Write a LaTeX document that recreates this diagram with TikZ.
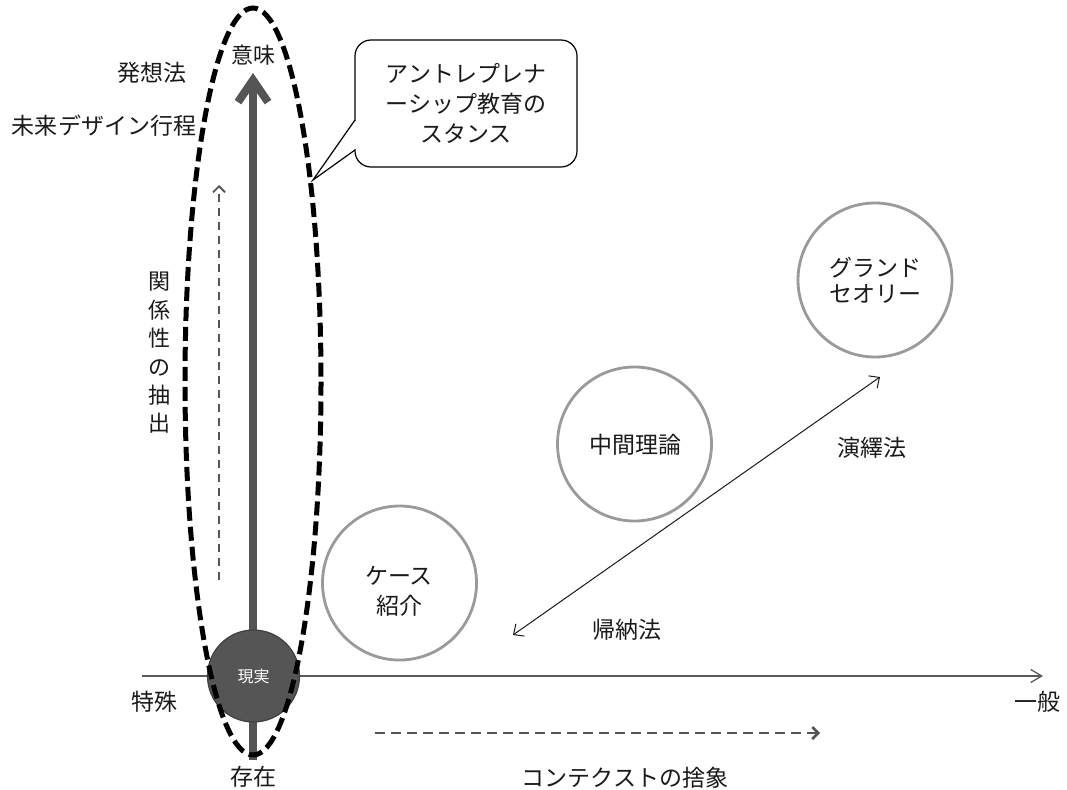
\documentclass[tikz,border=0pt]{standalone}
\usepackage{fontspec}
\setmainfont{Noto Sans CJK JP}
\usetikzlibrary{arrows.meta}
\definecolor{txt}{HTML}{1A1A1A}
\definecolor{dgray}{HTML}{555555}
\definecolor{cgray}{HTML}{9A9A9A}
\definecolor{axgray}{HTML}{5A5A5A}
\begin{document}
\begin{tikzpicture}[x=1pt,y=-1pt,
  lbl/.style={font=\fontsize{23}{30}\selectfont, text=txt, inner sep=0pt, align=center},
  theory/.style={circle, draw=cgray, line width=2.8pt, minimum size=154pt, inner sep=0pt},
  axisline/.style={draw=axgray, line width=1.3pt, -{Straight Barb[length=11pt,width=13pt]}},
  mainarrow/.style={draw=dgray, line width=8pt, -{Straight Barb[length=22pt,width=30pt]}},
  relarrow/.style={draw=dgray, line width=1.8pt, dash pattern=on 8pt off 6pt, -{Straight Barb[length=6pt,width=12pt]}},
  ctxarrow/.style={draw=dgray, line width=2.5pt, dash pattern=on 10pt off 6pt, -{Straight Barb[length=6pt,width=12pt]}},
  dblarrow/.style={draw=txt, line width=1pt, {Straight Barb[length=8pt,width=15pt]}-{Straight Barb[length=8pt,width=15pt]}},
  stance/.style={draw=black, line width=5pt, dash pattern=on 14pt off 6pt}
]
\useasboundingbox (0,0) rectangle (1067,789);
\fill[white] (0,0) rectangle (1067,789);

% horizontal axis
\coordinate (axL) at (142,676);
\coordinate (axR) at (1043,676);
\draw[axisline] (axL) -- (axR);
\node[lbl] (tokushu) at (154,702) {特殊};
\node[lbl] (ippan) at (1037,702) {一般};

% main vertical arrow
\coordinate (vB) at (253,760);
\coordinate (vT) at (253,73);
\draw[mainarrow] (vB) -- (vT);

% reality circle
\node[circle, fill=dgray, draw=black!75, line width=1.2pt, minimum size=92pt, inner sep=0pt,
      font=\fontsize{16}{18}\selectfont, text=white] (genjitsu) at (253.5,676) {現実};

% dashed ellipse
\draw[stance] (253,381.5) ellipse [x radius=68, y radius=373.5];

\node[lbl, font=\fontsize{22}{26}\selectfont] (imi) at (253,55) {意味};
\node[lbl] (sonzai) at (253,777) {存在};
\node[lbl] (hassou) at (152,73) {発想法};
\node[lbl] (mirai) at (104,126) {未来デザイン行程};

% relation extraction arrow
\coordinate (rB) at (219,580);
\coordinate (rT) at (219,185);
\draw[relarrow] (rB) -- (rT);
\node[lbl, font=\fontsize{22}{28.4}\selectfont] (kankei) at (159,353) {関\\係\\性\\の\\抽\\出};

% callout
\node[draw=black, line width=1.2pt, rounded corners=16pt, minimum width=222pt, minimum height=127pt,
      lbl] (callout) at (466,103.5) {アントレプレナ\\ーシップ教育の\\スタンス};
\coordinate (ctip) at (313,180);
\coordinate (cb1) at (355,120);
\coordinate (cb2) at (355,150);
\fill[white] (353,121) rectangle (358,149);
\draw[black, line width=1.2pt, line join=miter] (cb1) -- (ctip) -- (cb2);

% theory circles
\node[theory] (case) at (399.5,583) {};
\node[lbl] (caseT) at (399,591) {ケース\\紹介};
\node[theory] (chukan) at (634.5,444) {};
\node[lbl] (chukanT) at (635,445) {中間理論};
\node[theory] (grand) at (875,280) {};
\node[lbl, font=\fontsize{23}{26}\selectfont] (grandT) at (875,280) {グランド\\セオリー};

% induction / deduction
\coordinate (dA) at (513,635);
\coordinate (dB) at (880,377);
\draw[dblarrow] (dA) -- (dB);
\node[lbl] (enn) at (872,448) {演繹法};
\node[lbl] (kino) at (627,630) {帰納法};

% context abstraction
\coordinate (cA) at (375,733);
\coordinate (cB) at (820,733);
\draw[ctxarrow] (cA) -- (cB);
\node[lbl] (context) at (625,778) {コンテクストの捨象};
\end{tikzpicture}
\end{document}
